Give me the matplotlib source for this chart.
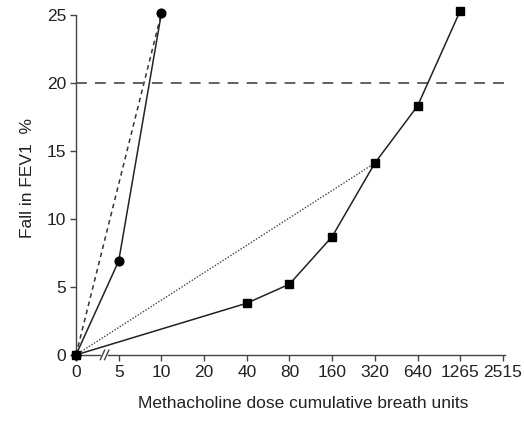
import numpy as np
from matplotlib import pyplot as plt

plt.rcParams['font.family'] = ['Liberation Sans', 'DejaVu Sans']

dose_labels = [0, 5, 10, 20, 40, 80, 160, 320, 640, 1265, 2515]

# circles: fast responder
circle_dose = [0, 5, 10]
circle_fall = [0, 6.9, 25.1]
# squares: slow responder
square_dose = [0, 40, 80, 160, 320, 640, 1265]
square_fall = [0, 3.8, 5.2, 8.7, 14.1, 18.3, 25.3]
# straight-line interpolations from origin
dashed_dose = [0, 10]
dashed_fall = [0, 25.1]
dotted_dose = [0, 320]
dotted_fall = [0, 14.1]
threshold = 20

def pos(doses):
    return [dose_labels.index(d) for d in doses]

fig = plt.figure(figsize=(5.24, 4.21), dpi=100)
ax = fig.add_axes([0.145, 0.157, 0.819, 0.808])

ax.plot(pos(dashed_dose), dashed_fall, color='#333333', lw=1.1, ls=(0, (3, 2.5)))
ax.plot(pos(dotted_dose), dotted_fall, color='#444444', lw=1.0, ls=(0, (1, 1.2)))
ax.axhline(threshold, color='#555555', lw=1.3, ls=(0, (6, 4.5)))
ax.plot(pos(circle_dose), circle_fall, color='#222222', lw=1.1, marker='o',
        ms=6.3, mfc='black', mec='black', clip_on=False, zorder=3)
ax.plot(pos(square_dose), square_fall, color='#222222', lw=1.1, marker='s',
        ms=6.3, mfc='black', mec='black', clip_on=False, zorder=3)

ax.set_xlim(0, 10.05)
ax.set_ylim(0, 25)
ax.set_xticks(range(len(dose_labels)))
ax.set_xticklabels([str(d) for d in dose_labels])
ax.set_yticks([0, 5, 10, 15, 20, 25])

for s in ['top', 'right']:
    ax.spines[s].set_visible(False)
for s in ['left', 'bottom']:
    ax.spines[s].set_color('#444444')
    ax.spines[s].set_linewidth(1.0)
ax.tick_params(direction='out', length=4, width=1.0, color='#444444',
               labelsize=12.5, pad=3, labelcolor='#222222')

# axis break on x axis
for xb in [0.62, 0.72]:
    ax.plot([xb - 0.05, xb + 0.05], [-0.35, 0.35], color='#444444', lw=1.0,
            clip_on=False, zorder=4)
ax.plot([0.6, 0.7], [0, 0], color='white', lw=2, clip_on=False, zorder=3.5)

ax.set_xlabel('Methacholine dose cumulative breath units', fontsize=12.5,
              color='#222222')
ax.xaxis.set_label_coords(0.53, -0.12)
ax.set_ylabel('Fall in FEV1  %', fontsize=12.5, color='#222222', labelpad=8)
ax.yaxis.set_label_coords(-0.095, 0.52)

plt.savefig('out.png', dpi=100)
plt.close()
